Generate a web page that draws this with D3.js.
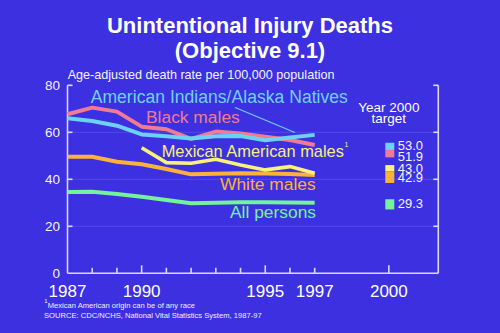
<!DOCTYPE html>
<html>
<head>
<meta charset="utf-8">
<script src="https://cdn.jsdelivr.net/npm/d3@7"></script>
<style>
  html, body { margin: 0; padding: 0; background: #3c30e0; }
  svg { display: block; font-family: "Liberation Sans", Arial, Helvetica, sans-serif; }
</style>
</head>
<body>
<svg id="chart" width="500" height="333"></svg>
<script>
// ---- data ----
const years = [1987, 1988, 1989, 1990, 1991, 1992, 1993, 1994, 1995, 1996, 1997];
const blackMales    = [67.7, 70.5, 68.8, 62.4, 61.3, 57.2, 60.3, 59.5, 58.1, 56.7, 54.6];
const aian          = [66.0, 64.8, 62.8, 59.1, 58.3, 57.4, 58.3, 58.4, 56.6, 57.8, 58.9];
const mexicanYears  = [1990, 1991, 1992, 1993, 1994, 1995, 1996, 1997];
const mexicanMales  = [53.4, 47.1, 46.8, 48.5, 46.1, 44.0, 45.4, 42.6];
const whiteMales    = [49.6, 49.6, 47.5, 46.4, 44.4, 42.1, 42.4, 42.6, 42.5, 42.3, 41.8];
const allPersons    = [34.6, 34.7, 33.7, 32.6, 31.2, 29.8, 30.0, 30.2, 30.2, 30.1, 30.0];
const targetLabels  = ["53.0", "51.9", "43.0", "42.9", "29.3"];
const targetValues  = [53.0, 51.9, 43.0, 42.9, 29.3];
const yTicks = [0, 20, 40, 60, 80];
const xTickLabels = [1987, 1990, 1995, 1997, 2000];
const xMinorTicks = [1988, 1989, 1991, 1992, 1993, 1994, 1996, 1997];
const xMajorTicks = [1990, 1995, 2000];

// ---- layout ----
const svg = d3.select("#chart");
const W = 500, H = 333;
const L = 67.5, R = 438.3, T = 85.3, B = 273.3;
const x = d3.scaleLinear().domain([1987, 2002]).range([L, R]);
const y = d3.scaleLinear().domain([0, 80]).range([B, T]);

const bg = "#3c30e0";
const axisCol = "#d8d8fa";
const colors = {
  black: "#f27a92",
  aian: "#6dd2f2",
  mex: "#f8f27c",
  white: "#fbb23a",
  all: "#74f39a"
};

svg.append("rect").attr("width", W).attr("height", H).attr("fill", bg);

// titles
svg.append("text").attr("x", 250).attr("y", 32.5).attr("text-anchor", "middle")
  .attr("font-size", 22).attr("font-weight", "bold").attr("fill", "#fff")
  .text("Unintentional Injury Deaths");
svg.append("text").attr("x", 250).attr("y", 57.5).attr("text-anchor", "middle")
  .attr("font-size", 22).attr("font-weight", "bold").attr("fill", "#fff")
  .text("(Objective 9.1)");
svg.append("text").attr("x", 67.7).attr("y", 79.3)
  .attr("font-size", 12.6).attr("fill", "#f4f4ff")
  .text("Age-adjusted death rate per 100,000 population");

// gridlines
svg.append("g").selectAll("line").data([20, 40, 60]).join("line")
  .attr("x1", L).attr("x2", R).attr("y1", d => y(d)).attr("y2", d => y(d))
  .attr("stroke", "#5548ea").attr("stroke-width", 1);

// axes frame (left, bottom, right)
const axG = svg.append("g").attr("stroke", axisCol).attr("stroke-width", 1.6).attr("fill", "none");
axG.append("line").attr("x1", L).attr("x2", L).attr("y1", T).attr("y2", B);
axG.append("line").attr("x1", L).attr("x2", R).attr("y1", B).attr("y2", B);
axG.append("line").attr("x1", R).attr("x2", R).attr("y1", T).attr("y2", B);
// left & right inward ticks
axG.selectAll(".lt").data([20, 40, 60, 80]).join("line")
  .attr("x1", L).attr("x2", L + 5).attr("y1", d => y(d)).attr("y2", d => y(d));
axG.selectAll(".rt").data([20, 40, 60, 80]).join("line")
  .attr("x1", R).attr("x2", R - 5).attr("y1", d => y(d)).attr("y2", d => y(d));
// bottom ticks
axG.selectAll(".bm").data(xMinorTicks).join("line")
  .attr("x1", d => x(d)).attr("x2", d => x(d)).attr("y1", B).attr("y2", B - 5.5);
axG.selectAll(".bM").data(xMajorTicks).join("line")
  .attr("x1", d => x(d)).attr("x2", d => x(d)).attr("y1", B).attr("y2", B - 8);

// y tick labels
svg.append("g").selectAll("text").data(yTicks).join("text")
  .attr("x", 60).attr("y", d => y(d) + 5).attr("text-anchor", "end")
  .attr("font-size", 13.5).attr("fill", "#f4f4ff").text(d => d);
// x tick labels
svg.append("g").selectAll("text").data(xTickLabels).join("text")
  .attr("x", d => x(d)).attr("y", 296.7).attr("text-anchor", "middle")
  .attr("font-size", 17).attr("fill", "#fff").text(d => d);

// lines
const line = d3.line().x(d => x(d[0])).y(d => y(d[1]));
const series = [
  { key: "black", xs: years, vs: blackMales, w: 4 },
  { key: "aian", xs: years, vs: aian, w: 4 },
  { key: "white", xs: years, vs: whiteMales, w: 4 },
  { key: "mex", xs: mexicanYears, vs: mexicanMales, w: 3.6 },
  { key: "all", xs: years, vs: allPersons, w: 4 }
];
svg.append("g").selectAll("path").data(series).join("path")
  .attr("d", s => line(s.xs.map((yr, i) => [yr, s.vs[i]])))
  .attr("fill", "none").attr("stroke", s => colors[s.key])
  .attr("stroke-width", s => s.w).attr("stroke-linejoin", "round");

// series labels
const labels = [
  { t: "American Indians/Alaska Natives", key: "aian", x: 90.7, y: 102.7, fs: 17.6 },
  { t: "Black males", key: "black", x: 146, y: 123.3, fs: 17.4 },
  { t: "Mexican American males", key: "mex", x: 161.7, y: 156.7, fs: 16.4 },
  { t: "White males", key: "white", x: 220, y: 190, fs: 17.4 },
  { t: "All persons", key: "all", x: 230, y: 217.7, fs: 17.4 }
];
svg.append("g").selectAll("text").data(labels).join("text")
  .attr("x", d => d.x).attr("y", d => d.y).attr("font-size", d => d.fs)
  .attr("fill", d => colors[d.key]).text(d => d.t);
svg.append("text").attr("x", 344.5).attr("y", 146.5).attr("font-size", 7)
  .attr("fill", colors.mex).text("1");

// pointer for AI/AN label (data coordinates)
svg.append("line")
  .attr("x1", x(1993.78)).attr("y1", y(70.6))
  .attr("x2", x(1996.2)).attr("y2", y(59.9))
  .attr("stroke", colors.aian).attr("stroke-width", 1.1);

// Year 2000 target
svg.append("text").attr("x", x(2000)).attr("y", 112.3).attr("text-anchor", "middle")
  .attr("font-size", 13.5).attr("fill", "#fff").text("Year 2000");
svg.append("text").attr("x", x(2000)).attr("y", 122.5).attr("text-anchor", "middle")
  .attr("font-size", 13.5).attr("fill", "#fff").text("target");

// target swatches (extents relative to the target value position)
const swatchKeys = ["aian", "black", "mex", "white", "all"];
const swatchOff = [[-6, 1.2], [-1.3, 6], [-7.2, -1], [-1.2, 10.5], [-5.2, 5]];
const labelOff = [1.2, 9.4, 0.4, 9.2, 3.9];
const tg = svg.append("g");
tg.selectAll("rect").data(targetValues).join("rect")
  .attr("x", 385.3).attr("width", 9)
  .attr("y", (d, i) => y(d) + swatchOff[i][0])
  .attr("height", (d, i) => swatchOff[i][1] - swatchOff[i][0])
  .attr("fill", (d, i) => colors[swatchKeys[i]]);
tg.selectAll("text").data(targetValues).join("text")
  .attr("x", 397.7).attr("y", (d, i) => y(d) + labelOff[i])
  .attr("font-size", 13).attr("fill", "#f4f4ff").text((d, i) => targetLabels[i]);

// footnotes
svg.append("text").attr("x", 44.3).attr("y", 303).attr("font-size", 6).attr("fill", "#f0f0ff").text("1");
svg.append("text").attr("x", 47.7).attr("y", 308.3).attr("font-size", 7.6).attr("fill", "#f0f0ff")
  .text("Mexican American origin can be of any race");
svg.append("text").attr("x", 44).attr("y", 317.7).attr("font-size", 7.6).attr("fill", "#f0f0ff")
  .text("SOURCE: CDC/NCHS, National Vital Statistics System, 1987-97");
</script>
</body>
</html>
